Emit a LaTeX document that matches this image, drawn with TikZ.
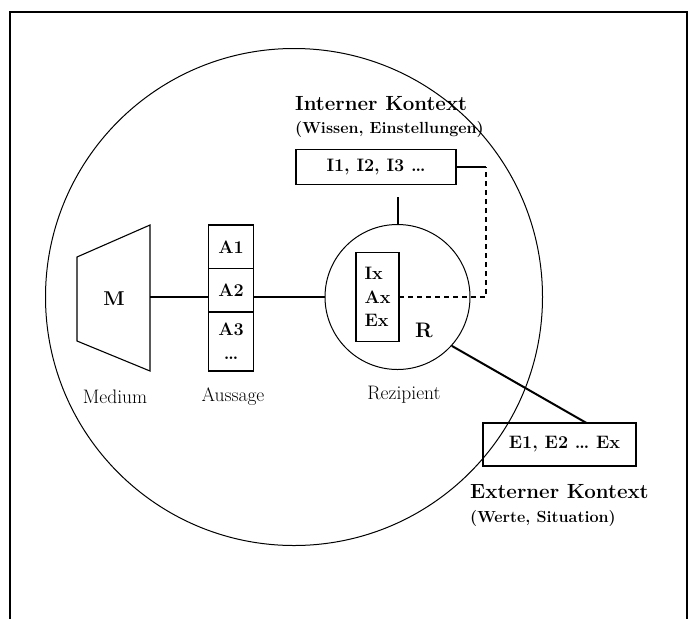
\documentclass[tikz,border=0pt]{standalone}
\usetikzlibrary{positioning}

\begin{document}
\begin{tikzpicture}[
    x=1pt, y=-1pt,
    box/.style={draw, line width=1.1pt, inner sep=0pt, outer sep=0pt, font=\bfseries\fontsize{18}{20}\selectfont},
    abox/.style={box, minimum width=44.5pt, minimum height=43.5pt},
    ring/.style={draw, circle, line width=1pt, inner sep=0pt},
    heading/.style={anchor=west, inner sep=0pt, font=\bfseries\fontsize{20.5}{22}\selectfont},
    subheading/.style={anchor=west, inner sep=0pt, font=\bfseries\fontsize{16.1}{18}\selectfont},
    caption/.style={inner sep=0pt, font=\fontsize{19.5}{21}\selectfont},
    link/.style={line width=2pt},
    dashlink/.style={line width=1.5pt, dash pattern=on 5pt off 4pt}
]

\useasboundingbox (0,0) rectangle (696,619);

% Frame
\draw[line width=1.8pt] (10,619) -- (10,12) -- (687,12) -- (687,619);

% Outer circle
\node[ring, minimum size=497pt] (outer) at (294,297) {};

% Medium
\coordinate (m1) at (77,257);
\coordinate (m2) at (150,225);
\coordinate (m3) at (150,371);
\coordinate (m4) at (77,341);
\draw[line width=1.1pt] (m1) -- (m2) -- (m3) -- (m4) -- cycle;
\node[font=\bfseries\fontsize{20}{22}\selectfont] (M) at (114,299) {M};
\coordinate (mright) at (150,297);
\node[caption] (medium) at (115,397) {Medium};

% Aussage
\node[abox] (A1) at (231,246.75) {A1};
\node[abox, below=0pt of A1] (A2) {A2};
\node[abox, below=0pt of A2, minimum height=59pt, align=center,
      font=\bfseries\fontsize{18}{24}\selectfont] (A3) {A3\\\dots};
\node[caption] (aussage) at (233,397) {Aussage};

% Rezipient
\node[ring, minimum size=145pt] (R) at (397.5,297) {};
\node[box, minimum width=43pt, minimum height=89pt, align=left,
      font=\bfseries\fontsize{18}{23.5}\selectfont] (X) at (377.5,297) {Ix\\Ax\\Ex};
\node[font=\bfseries\fontsize{21}{23}\selectfont] (Rlabel) at (424,330) {R};
\node[caption] (rezipient) at (404,395) {Rezipient};

% Interner Kontext
\node[heading] (intern) at (295,104) {Interner Kontext};
\node[subheading] (internsub) at (295,129) {(Wissen, Einstellungen)};
\node[box, minimum width=160pt, minimum height=35pt] (I) at (376,167) {I1, I2, I3 \dots};

% Externer Kontext
\node[box, minimum width=153pt, minimum height=43pt] (E) at (559.5,444.5) {\hspace{10pt}E1, E2 \dots\ Ex};
\node[heading] (extern) at (470,492) {Externer Kontext};
\node[subheading] (externsub) at (470,518) {(Werte, Situation)};

% Connections
\draw[link] (mright) -- (mright -| A2.west);
\draw[link] (R.west -| A2.east) -- (R.west);
\coordinate[above=27pt of R.north] (Rstub);
\draw[link] (R.north) -- (Rstub);
\coordinate[right=30pt of I.east] (corner);
\draw[link] (I.east) -- (corner);
\draw[dashlink] (X.east) -| (corner);
\draw[link] (R.-42) -- ([xshift=27pt]E.north);

\end{tikzpicture}
\end{document}
